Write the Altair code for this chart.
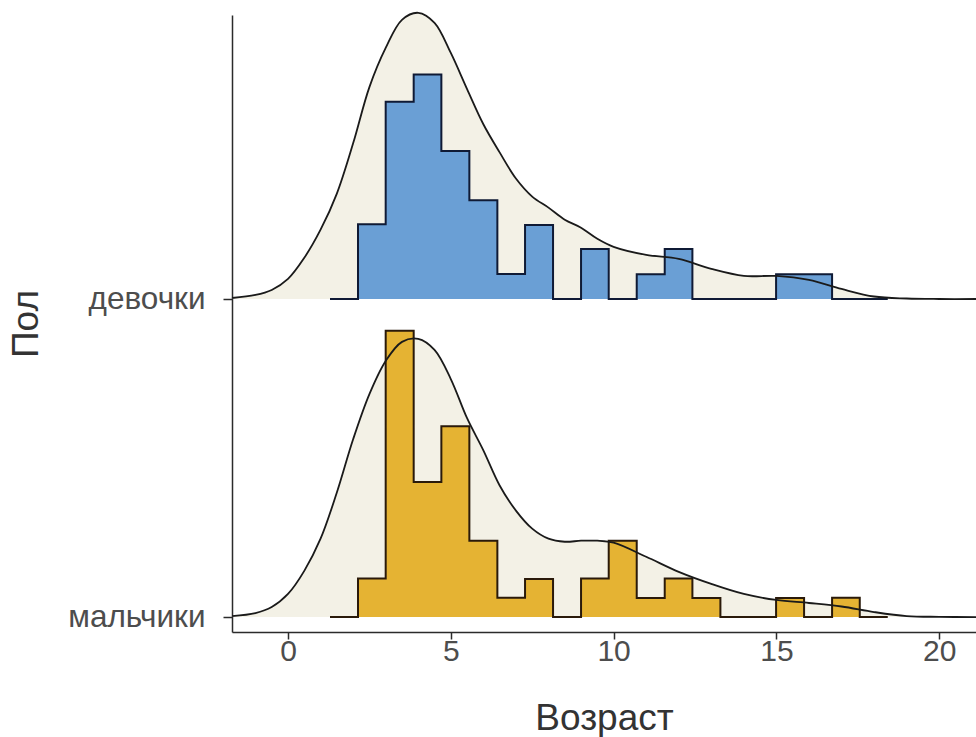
import altair as alt
import pandas as pd

# ---- data ----
groups = ["девочки", "мальчики"]
group_base = [2, 1]           # ridge baseline position on the y axis

# density curve heights (relative units) read at these ages
dens_x = [-1.72, -1.0, -0.5, 0.0, 0.5, 1.0, 1.5, 2.0, 2.5, 3.0, 3.5, 4.0, 4.5,
          5.0, 5.5, 6.0, 6.5, 7.0, 7.5, 8.0, 8.5, 9.0, 9.5, 10.0, 11.0, 12.0,
          13.0, 14.0, 15.0, 16.0, 17.0, 18.0, 19.0, 20.0, 21.13]
dens_girls = [1, 4, 9, 20, 41, 69, 105, 155, 211, 250, 278, 285, 275,
              245, 209, 174, 146, 120, 102, 91, 79, 71, 60, 52, 44, 40,
              30, 23, 23, 19, 10, 2.5, 0.5, 0, 0]
dens_boys = [1, 4, 10, 23, 46, 78, 124, 177, 222, 255, 274, 277, 266,
             237, 198, 166, 131, 106, 88, 78, 75, 76, 76, 74, 60, 45,
             33, 23, 17, 14, 10.5, 5, 1, 0.2, 0]

# histogram bin edges and counts
hist_edges = [1.29, 2.15, 3.0, 3.86, 4.71, 5.57, 6.43, 7.28, 8.14, 9.0, 9.85,
              10.71, 11.57, 12.42, 13.28, 14.14, 14.99, 15.85, 16.71, 17.56, 18.42]
counts_girls = [0, 3, 8, 9, 6, 4, 1, 3, 0, 2, 0, 1, 2, 0, 0, 0, 1, 1, 0, 0]
counts_boys = [0, 2, 15, 7, 10, 4, 1, 2, 0, 2, 4, 1, 2, 1, 0, 0, 1, 0, 1, 0]

x_ticks = [0, 5, 10, 15, 20]
SCALE = 0.9  # ridge height scale (as in ggridges)

# ---- build tables ----
dens_max = max(max(dens_girls), max(dens_boys))
rows = []
for g, b, vals in zip(groups, group_base, [dens_girls, dens_boys]):
    for xv, hv in zip(dens_x, vals):
        rows.append({"group": g, "x": xv, "base": b, "y": b + SCALE * hv / dens_max})
dens_df = pd.DataFrame(rows)

hist_rows = []
dens_vals = {}
for g, cnts in zip(groups, [counts_girls, counts_boys]):
    n = sum(cnts)
    dens_vals[g] = [c / (n * (hist_edges[i + 1] - hist_edges[i])) for i, c in enumerate(cnts)]
hmax = max(max(v) for v in dens_vals.values())
for g, b in zip(groups, group_base):
    dv = dens_vals[g] + [dens_vals[g][-1]]
    for e, d in zip(hist_edges, dv):
        hist_rows.append({"group": g, "x": e, "base": b, "y": b + SCALE * d / hmax})
hist_df = pd.DataFrame(hist_rows)

# ---- encodings ----
label_expr = " : ".join(
    [f"datum.value == {b} ? '{g}'" for g, b in zip(groups[:-1], group_base[:-1])]
    + [f"'{groups[-1]}'"]
)

axis_common = dict(
    grid=False, domainColor="#2b2b2b", domainWidth=1.5, tickColor="#2b2b2b",
    tickWidth=1.5, labelFont="Liberation Sans",
    labelColor="#4d4d4d", titleFont="Liberation Sans", titleFontSize=37,
    titleFontWeight="normal", titleColor="#333333",
)

x_enc = alt.X(
    "x:Q",
    scale=alt.Scale(domain=[-1.72, 21.13], nice=False, zero=False),
    axis=alt.Axis(values=x_ticks, title="Возраст", tickSize=7, labelPadding=-3,
                  labelFontSize=30, titlePadding=34, **axis_common),
)
y_enc = alt.Y(
    "y:Q",
    scale=alt.Scale(domain=[0.953, 2.893], nice=False, zero=False),
    axis=alt.Axis(values=group_base, labelExpr=label_expr, title="Пол", tickSize=9,
                  labelFontSize=31.5, labelPadding=18, titlePadding=22, **axis_common),
)

dens_area = alt.Chart(dens_df).mark_area(interpolate="catmull-rom", color="#f3f1e6").encode(
    x=x_enc, y=y_enc, y2="base:Q", detail="group:N"
)
hist_area = alt.Chart(hist_df).mark_area(interpolate="step-after").encode(
    x=x_enc, y=y_enc, y2="base:Q",
    color=alt.Color("group:N", scale=alt.Scale(domain=groups, range=["#6a9fd5", "#e5b333"]), legend=None),
)
hist_line = alt.Chart(hist_df).mark_line(interpolate="step-after", strokeWidth=2).encode(
    x=x_enc, y=y_enc,
    stroke=alt.Stroke("group:N", scale=alt.Scale(domain=groups, range=["#0f1a35", "#2a1a0a"]), legend=None),
)
dens_line = alt.Chart(dens_df).mark_line(interpolate="catmull-rom", color="#1a1a1a", strokeWidth=1.8).encode(
    x=x_enc, y=y_enc, detail="group:N"
)

chart = alt.layer(dens_area, hist_area, hist_line, dens_line).properties(
    width=744, height=617,
    padding={"left": 232, "top": 15, "right": 0, "bottom": 105},
    autosize=alt.AutoSizeParams(type="none"),
    background="white",
).configure_view(stroke=None)

chart.save("out.html", embed_options={"renderer": "svg", "actions": False})
